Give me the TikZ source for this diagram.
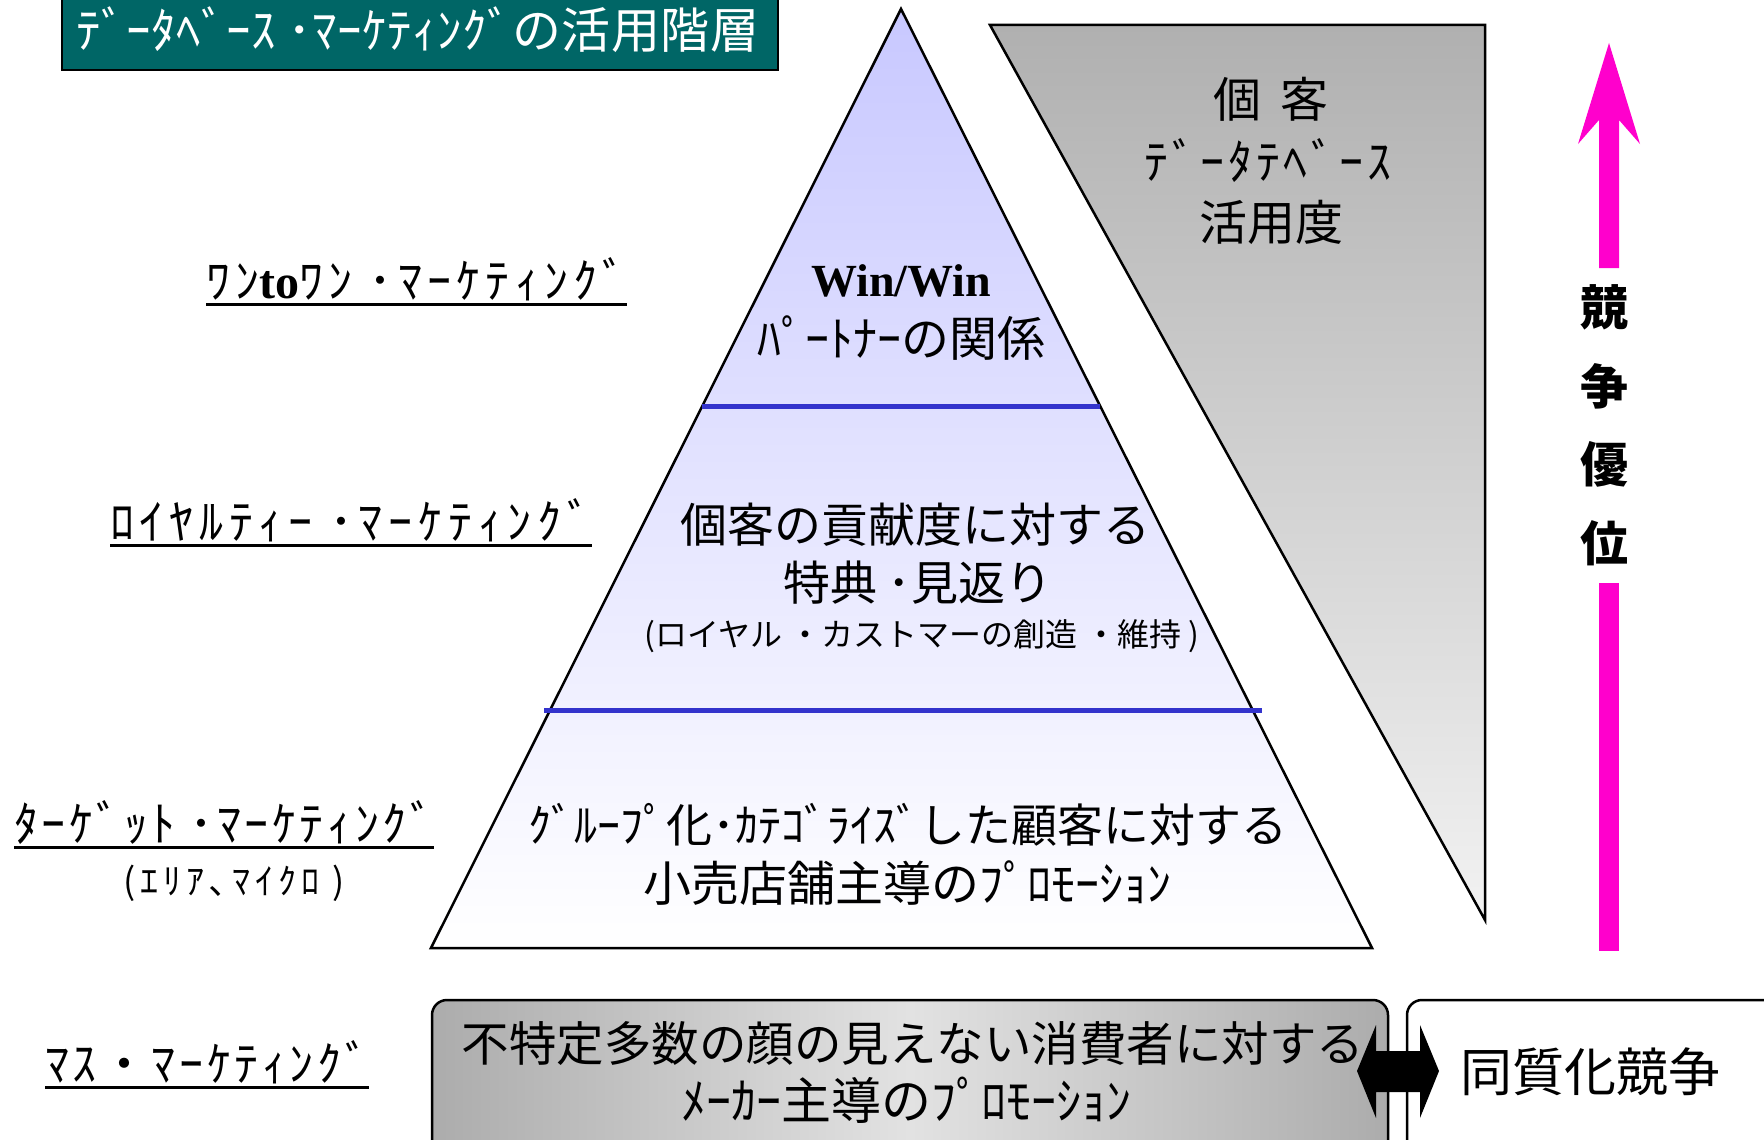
\documentclass[tikz,border=0pt]{standalone}
\usepackage{fontspec}
\setmainfont{Noto Sans CJK JP}
\newfontfamily\tnr{Liberation Serif}
\newcommand\fsz[1]{\fontsize{#1}{#1}\selectfont}
\newcommand\ls[1]{\addfontfeature{LetterSpace=#1}}
\definecolor{titleteal}{RGB}{0,102,102}
\definecolor{pyrtop}{RGB}{200,200,255}
\definecolor{pyrbot}{RGB}{255,255,255}
\definecolor{divblue}{RGB}{51,51,204}
\definecolor{gtop}{RGB}{176,176,176}
\definecolor{gbot}{RGB}{242,242,242}
\definecolor{boxside}{RGB}{172,172,172}
\definecolor{boxmid}{RGB}{226,226,226}
\definecolor{magentaarrow}{RGB}{255,0,204}
\begin{document}
\begin{tikzpicture}[x=1pt,y=-1pt,
  every node/.style={inner sep=0pt},
  outl/.style={draw=black,line width=2.5pt,line join=miter},
  divider/.style={draw=divblue,line width=5pt},
  lab/.style={anchor=base west},
  uline/.style={draw=black,line width=3pt},
  ptext/.style={font=\fsz{47}}]
\useasboundingbox (0,0) rectangle (1764,1140);
\clip (0,0) rectangle (1764,1140);

% title
\path[fill=titleteal,draw=black,line width=2.5pt] (62,-5) rectangle (778,70);
\node[font=\fsz{49}\ls{1}, text=white] (title) at (418,30) {ﾃﾞｰﾀﾍﾞｰｽ ･ﾏｰｹﾃｨﾝｸﾞの活用階層};

% pyramid
\shade[top color=pyrtop,bottom color=pyrbot] (901,9) -- (1372,948) -- (431,948) -- cycle;
\draw[outl] (901,9) -- (1372,948) -- (431,948) -- cycle;
\draw[divider] (702,406) -- (1100,406);
\draw[divider] (544,710) -- (1262,710);

% grey triangle
\shade[top color=gtop,bottom color=gbot] (990,25) -- (1485,25) -- (1485,920) -- cycle;
\draw[outl] (990,25) -- (1485,25) -- (1485,920) -- cycle;
\node[font=\fsz{48}] (g1) at (1271,99) {個\hspace{20pt}客};
\node[font=\fsz{48}\ls{8}] (g2) at (1268,161) {ﾃﾞｰﾀﾃﾍﾞｰｽ};
\node[font=\fsz{48}] (g3) at (1271,222) {活用度};

% pyramid texts
\node[font=\tnr\bfseries\fsz{46}] (ww) at (901,281) {Win/Win};
\node[font=\fsz{48}] (pt) at (901,338) {ﾊﾟｰﾄﾅｰの関係};
\node[ptext] (l2a) at (915,525) {個客の貢献度に対する};
\node[ptext] (l2b) at (918,583) {特典 ･見返り};
\node[font=\fsz{32}] (l2c) at (922,636) {(ロイヤル ・カストマーの創造 ・維持 )};
\node[font=\fsz{46}] (l3a) at (908,825) {ｸﾞﾙｰﾌﾟ化･ｶﾃｺﾞﾗｲｽﾞした顧客に対する};
\node[font=\fsz{48}] (l3b) at (907,883) {小売店舗主導のﾌﾟﾛﾓｰｼｮﾝ};

% left labels
\node[lab,font=\fsz{48}\ls{11}] (m1) at (206,298) {ﾜﾝ{\tnr\bfseries to}ﾜﾝ ･ﾏｰｹﾃｨﾝｸﾞ};
\draw[uline] ([yshift=-6pt]m1.base west) -- ([yshift=-6pt]m1.base east);
\node[lab,font=\fsz{48}\ls{12}] (m2) at (110,539) {ﾛｲﾔﾙﾃｨｰ ･ﾏｰｹﾃｨﾝｸﾞ};
\draw[uline] ([yshift=-6pt]m2.base west) -- ([yshift=-6pt]m2.base east);
\node[lab,font=\fsz{48}\ls{7.3}] (m3) at (14,841) {ﾀｰｹﾞｯﾄ ･ﾏｰｹﾃｨﾝｸﾞ};
\draw[uline] ([yshift=-6pt]m3.base west) -- ([yshift=-6pt]m3.base east);
\node[font=\fsz{36}\ls{14}] (m3b) at (234,883) {(ｴﾘｱ､ﾏｲｸﾛ )};
\node[lab,font=\fsz{48}\ls{7.5}] (m4) at (45,1081) {ﾏｽ・ﾏｰｹﾃｨﾝｸﾞ};
\draw[uline] ([yshift=-6pt]m4.base west) -- ([yshift=-6pt]m4.base east);

% magenta arrow
\fill[magentaarrow] (1609,43) -- (1640,144) -- (1619,120) -- (1619,268) -- (1599,268) -- (1599,120) -- (1578,144) -- cycle;
\fill[magentaarrow] (1599,583) rectangle (1619,951);
\node[font=\bfseries\fsz{48}] (k1) at (1604,307) {競};
\node[font=\bfseries\fsz{48}] (k2) at (1604,386) {争};
\node[font=\bfseries\fsz{48}] (k3) at (1604,464) {優};
\node[font=\bfseries\fsz{48}] (k4) at (1604,543) {位};

% bottom boxes
\path[outl,rounded corners=15pt,left color=boxside,right color=boxside,middle color=boxmid] (432,1000) rectangle (1388,1170);
\path[outl,rounded corners=15pt,fill=white] (1407,1000) rectangle (1800,1170);
\node[font=\fsz{47.5}] (b1) at (913,1044) {不特定多数の顔の見えない消費者に対する};
\node[font=\fsz{50}] (b2) at (906,1100) {ﾒｰｶｰ主導のﾌﾟﾛﾓｰｼｮﾝ};
\node[font=\fsz{52}] (b3) at (1590,1072) {同質化競争};

% double arrow
\fill[black] (1357,1071) -- (1376,1025) -- (1376,1051) -- (1420,1051) -- (1420,1025) -- (1439,1071) -- (1420,1118) -- (1420,1092) -- (1376,1092) -- (1376,1118) -- cycle;
\end{tikzpicture}
\end{document}
